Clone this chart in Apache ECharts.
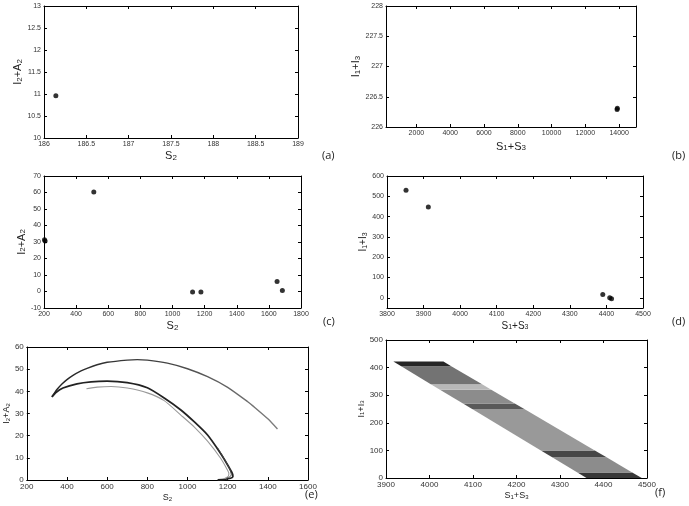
<!DOCTYPE html>
<html><head><meta charset="utf-8">
<script src="https://cdn.jsdelivr.net/npm/echarts@6/dist/echarts.min.js"></script>
<style>html,body{margin:0;padding:0;background:#fff}#c{width:689px;height:506px}</style>
</head><body><div id="c"></div>
<script>
// ---------- data ----------
const aPoints = [[186.14, 10.96]];
const bPoints = [[13880, 226.29], [13895, 226.31]];
const cPoints = [[203, 31.4], [207, 30.6], [510, 60.3], [1125, -0.3], [1177, -0.3], [1651, 6.0], [1684, 0.6]];
const dPoints = [[3852, 530], [3913, 447], [4390, 16], [4409, 1], [4414, -4]];

const eOuter = [[1448,23],[1400,27.6],[1330,33.1],[1300,35.3],[1200,41.8],[1100,46.6],[1000,50.2],[900,52.7],[800,54.1],[750,54.3],[700,54.1],[600,53.1],[550,52.0],[500,50.4],[470,49.2],[430,47.2],[400,45.3],[375,43.3],[350,40.8],[335,38.8],[325,37.5]];
const eInner = [[325,37.5],[345,39.5],[380,41.5],[450,43.4],[520,44.3],[600,44.6],[700,43.9],[800,41.6],[884,37],[967,31.6],[1033,26.3],[1100,20.3],[1165,12],[1200,6.8],[1223,3],[1226,1.6],[1214,0.8],[1185,0.3],[1150,0.1]];
const eInner2 = [[1150,14.5],[1190,8.5],[1212,4.5],[1218,2.4],[1208,1.2],[1190,0.6]];
const eGray = [[497,41.2],[550,41.9],[620,42.2],[700,41.5],[800,39.3],[884,35.8],[967,29.3],[1033,24],[1100,17.5],[1165,9.8],[1196,5],[1206,3],[1203,1.6],[1185,0.7]];

// band of the scatter cloud in (f): slice boundaries (y) with left / right edge x, and relative point density per slice
const fBandY      = [0,    20,   75,   100,  250,  270,  320,  340,  405,  422];
const fBandLeftX  = [4361, 4340, 4282, 4256, 4098, 4077, 4024, 4003, 3935, 3917];
const fBandRightX = [4488, 4466, 4407, 4380, 4218, 4196, 4142, 4121, 4050, 4032];
const fBandDensity = [0.78, 0.45, 0.72, 0.4, 0.65, 0.45, 0.28, 0.55, 0.85];

const bXTicks = [2000, 4000, 6000, 8000, 10000, 12000, 14000];
const dYTicks = [0, 100, 200, 300, 400, 500, 600];

// ---------- helpers ----------
const FF = 'Liberation Sans, Arial, sans-serif';
function richName(fs) {
  return {
    m: { fontSize: fs, lineHeight: fs, verticalAlign: 'top', color: '#222', fontFamily: FF },
    s: { fontSize: Math.round(fs * 0.72), lineHeight: Math.round(fs * 0.72), verticalAlign: 'bottom', padding: [Math.round(fs*0.45), 0, 0, 0], color: '#222', fontFamily: FF }
  };
}
const tick = { show: true, inside: true, length: 3, lineStyle: { color: '#000', width: 1 } };
function axisBase(gi, c) {
  const o = {
    type: 'value', gridIndex: gi, min: c.min, max: c.max, scale: true,
    splitLine: { show: false },
    axisLine: { show: true, onZero: false, lineStyle: { color: '#000', width: 1 } },
    axisTick: Object.assign({}, tick),
    axisLabel: { show: true, fontSize: c.fs, color: '#333', margin: 3, fontFamily: FF, showMinLabel: true, showMaxLabel: true,
      formatter: v => String(v) }
  };
  if (c.custom) {
    o.axisTick.customValues = c.custom;
    o.axisLabel.customValues = c.custom;
  } else {
    o.interval = c.interval;
  }
  return o;
}
function xPair(gi, c) {
  const a = axisBase(gi, c);
  a.position = 'bottom';
  a.name = c.name; a.nameLocation = 'middle'; a.nameGap = c.gap;
  a.nameTextStyle = { rich: richName(c.nfs) };
  const b = axisBase(gi, c);
  b.position = 'top'; b.axisLabel = { show: false };
  return [a, b];
}
function yPair(gi, c) {
  const a = axisBase(gi, c);
  a.position = 'left';
  a.name = c.name; a.nameLocation = 'middle'; a.nameGap = c.gap; a.nameRotate = 90;
  a.nameTextStyle = { rich: richName(c.nfs) };
  const b = axisBase(gi, c);
  b.position = 'right'; b.axisLabel = { show: false };
  return [a, b];
}

const nS2 = '{m|S}{s|2}';
const nS13 = '{m|S}{s|1}{m|+S}{s|3}';
const nI2A2 = '{m|I}{s|2}{m|+A}{s|2}';
const nI13 = '{m|I}{s|1}{m|+I}{s|3}';

const grids = [
  { left: 44, top: 6, width: 254, height: 132 },
  { left: 386, top: 6, width: 250, height: 121 },
  { left: 44, top: 176, width: 257, height: 132 },
  { left: 387, top: 176, width: 256, height: 132 },
  { left: 25, top: 347, width: 283, height: 133 },
  { left: 386, top: 340, width: 261, height: 138 }
];

const xCfg = [
  { min: 186, max: 189, interval: 0.5, fs: 7, name: nS2, gap: 9, nfs: 11 },
  { min: 200, max: 15000, custom: bXTicks, fs: 7, name: nS13, gap: 14, nfs: 11 },
  { min: 200, max: 1800, interval: 200, fs: 7, name: nS2, gap: 8, nfs: 11 },
  { min: 3800, max: 4500, interval: 100, fs: 7, name: nS13, gap: 9, nfs: 10 },
  { min: 200, max: 1600, interval: 200, fs: 8, name: nS2, gap: 5, nfs: 9 },
  { min: 3900, max: 4500, interval: 100, fs: 8, name: nS13, gap: 10, nfs: 9 }
];
const yCfg = [
  { min: 10, max: 13, interval: 0.5, fs: 7, name: nI2A2, gap: 11, nfs: 11 },
  { min: 226, max: 228, interval: 0.5, fs: 7, name: nI13, gap: 14, nfs: 11 },
  { min: -10, max: 70, interval: 10, fs: 7, name: nI2A2, gap: 12, nfs: 11 },
  { min: -50, max: 600, custom: dYTicks, fs: 7, name: nI13, gap: 14, nfs: 10 },
  { min: 0, max: 60, interval: 10, fs: 8, name: nI2A2, gap: 13, nfs: 9 },
  { min: 0, max: 500, interval: 100, fs: 8, name: nI13, gap: 16, nfs: 9 }
];

const xAxes = [], yAxes = [];
for (let i = 0; i < 6; i++) {
  xAxes.push(...xPair(i, xCfg[i]));
  yAxes.push(...yPair(i, yCfg[i]));
}
const ax = i => ({ xAxisIndex: 2 * i, yAxisIndex: 2 * i });
const dot = (i, data, size) => Object.assign({
  type: 'scatter', data, symbolSize: size, itemStyle: { color: '#000' }, silent: true, animation: false
}, ax(i));
const line = (i, data, color, w) => Object.assign({
  type: 'line', data, showSymbol: false, smooth: 0.2, lineStyle: { color, width: w }, silent: true, animation: false
}, ax(i));

const band = Object.assign({
  type: 'custom', animation: false, silent: true,
  data: fBandDensity.map((d, i) => [fBandLeftX[i], fBandY[i], d]),
  renderItem: function (params, api) {
    const i = params.dataIndex;
    const pts = [
      [fBandLeftX[i], fBandY[i]], [fBandRightX[i], fBandY[i]],
      [fBandRightX[i + 1], fBandY[i + 1]], [fBandLeftX[i + 1], fBandY[i + 1]]
    ].map(p => api.coord(p));
    const g = Math.round(255 * (1 - fBandDensity[i]));
    return { type: 'polygon', shape: { points: pts }, style: { fill: 'rgb(' + g + ',' + g + ',' + g + ')' } };
  }
}, ax(5));

const labels = [['(a)', 322, 150], ['(b)', 672, 150], ['(c)', 323, 316], ['(d)', 672, 316], ['(e)', 305, 489], ['(f)', 655, 487]];

const outerGrad = new echarts.graphic.LinearGradient(0, 0, 1, 0, [
  { offset: 0, color: '#222' }, { offset: 0.5, color: '#444' }, { offset: 1, color: '#808080' }
]);

const chart = echarts.init(document.getElementById('c'), null, { renderer: 'canvas' });
chart.setOption({
  animation: false,
  backgroundColor: '#fff',
  grid: grids,
  xAxis: xAxes,
  yAxis: yAxes,
  series: [
    dot(0, aPoints, 5),
    dot(1, bPoints, 5),
    dot(2, cPoints, 5),
    dot(3, dPoints, 5),
    line(4, eOuter, outerGrad, 1.4),
    line(4, eInner, '#222', 1.8),
    line(4, eInner2, '#444', 1),
    line(4, eGray, '#9a9a9a', 1.1),
    band
  ],
  graphic: labels.map(l => ({
    type: 'text', left: l[1], top: l[2],
    style: { text: l[0], fontSize: 11, fill: '#222', fontFamily: 'Open Sans, sans-serif' }
  }))
});
</script>
</body></html>
